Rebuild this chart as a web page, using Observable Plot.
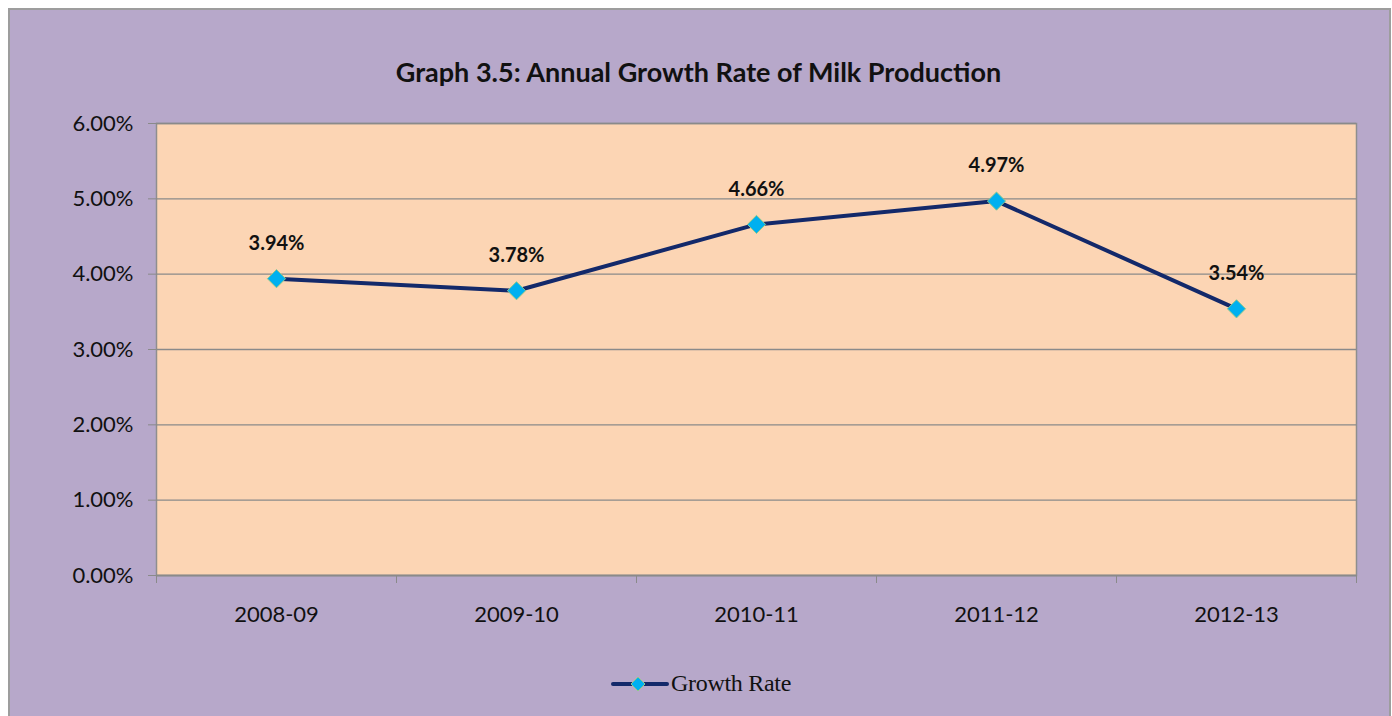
<!DOCTYPE html>
<html>
<head>
<meta charset="utf-8">
<script src="https://cdn.jsdelivr.net/npm/d3@7"></script>
<script src="https://cdn.jsdelivr.net/npm/@observablehq/plot@0.6"></script>
<style>
  html, body { margin: 0; padding: 0; background: #ffffff; width: 1392px; height: 716px; overflow: hidden; }
  #box { position: absolute; left: 8px; top: 8px; width: 1379px; height: 720px; background: #b7a8ca; border: 2px solid #9d9d9d; border-bottom: none; }
  #title { position: absolute; left: 8px; width: 1381px; top: 55px; text-align: center; font-family: Lato, sans-serif; font-weight: bold; font-size: 27px; color: #111; }
  #chart { position: absolute; left: 0; top: 0; }
  #legend { position: absolute; left: 611px; top: 670px; display: flex; align-items: center; font-family: "Liberation Serif", serif; font-size: 24px; color: #111; }
</style>
</head>
<body>
<div id="box"></div>
<div id="chart"></div>
<div id="title"></div>
<div id="legend"></div>
<script>
const titleText = "Graph 3.5: Annual Growth Rate of Milk Production";
const seriesName = "Growth Rate";
const categories = ["2008-09", "2009-10", "2010-11", "2011-12", "2012-13"];
const growthRate = [0.0394, 0.0378, 0.0466, 0.0497, 0.0354];
const yTicks = [0, 0.01, 0.02, 0.03, 0.04, 0.05, 0.06];

const data = categories.map((c, i) => ({cat: c, pos: i + 0.5, value: growthRate[i]}));
const fmt = d3.format(".2%");

const chart = Plot.plot({
  width: 1392,
  height: 716,
  marginLeft: 156,
  marginRight: 36,
  marginTop: 123,
  marginBottom: 141,
  style: {background: "transparent", fontFamily: "Lato, sans-serif", overflow: "visible"},
  x: {type: "linear", domain: [0, categories.length]},
  y: {domain: [0, 0.06]},
  marks: [
    Plot.frame({fill: "#fcd5b4", stroke: "#8e8e8e", strokeWidth: 1.5}),
    Plot.gridY(yTicks, {stroke: "#8a8a8a", strokeOpacity: 1, strokeWidth: 1.3}),
    Plot.axisY({ticks: yTicks, tickFormat: fmt, tickSize: 8, tickPadding: 15, fontSize: 22, stroke: "#8a8a8a", fill: "#111", label: null}),
    Plot.axisX({ticks: d3.range(categories.length + 1), tickFormat: () => "", tickSize: 8, stroke: "#8a8a8a", label: null}),
    Plot.axisX({ticks: data.map(d => d.pos), tickFormat: d => categories[Math.floor(d)], tickSize: 0, tickPadding: 31, fontSize: 22, fill: "#111", label: null}),
    Plot.ruleY([0], {stroke: "#8a8a8a", strokeWidth: 1.5}),
    Plot.line(data, {x: "pos", y: "value", stroke: "#13296a", strokeWidth: 4, strokeLinejoin: "round", strokeLinecap: "round"}),
    Plot.dot(data, {x: "pos", y: "value", symbol: "diamond2", r: 8.2, fill: "#00b0f0", stroke: "#8fc98a", strokeWidth: 1}),
    Plot.text(data, {x: "pos", y: "value", text: d => fmt(d.value), dy: -35, fontSize: 20, fontWeight: "bold", fill: "#111"})
  ]
});
document.getElementById("chart").appendChild(chart);

document.getElementById("title").textContent = titleText;

const legend = document.getElementById("legend");
const ns = "http://www.w3.org/2000/svg";
const sw = document.createElementNS(ns, "svg");
sw.setAttribute("width", 58);
sw.setAttribute("height", 24);
const ln = document.createElementNS(ns, "line");
ln.setAttribute("x1", 2); ln.setAttribute("x2", 56); ln.setAttribute("y1", 12); ln.setAttribute("y2", 12);
ln.setAttribute("stroke", "#13296a"); ln.setAttribute("stroke-width", 4); ln.setAttribute("stroke-linecap", "round");
sw.appendChild(ln);
const dm = document.createElementNS(ns, "path");
dm.setAttribute("d", "M27,5L34,12L27,19L20,12Z");
dm.setAttribute("fill", "#00b0f0"); dm.setAttribute("stroke", "#8fc98a"); dm.setAttribute("stroke-width", 1);
sw.appendChild(dm);
legend.appendChild(sw);
const lt = document.createElement("span");
lt.textContent = seriesName;
lt.style.marginLeft = "2px";
lt.style.letterSpacing = "-0.3px";
legend.appendChild(lt);
</script>
</body>
</html>
